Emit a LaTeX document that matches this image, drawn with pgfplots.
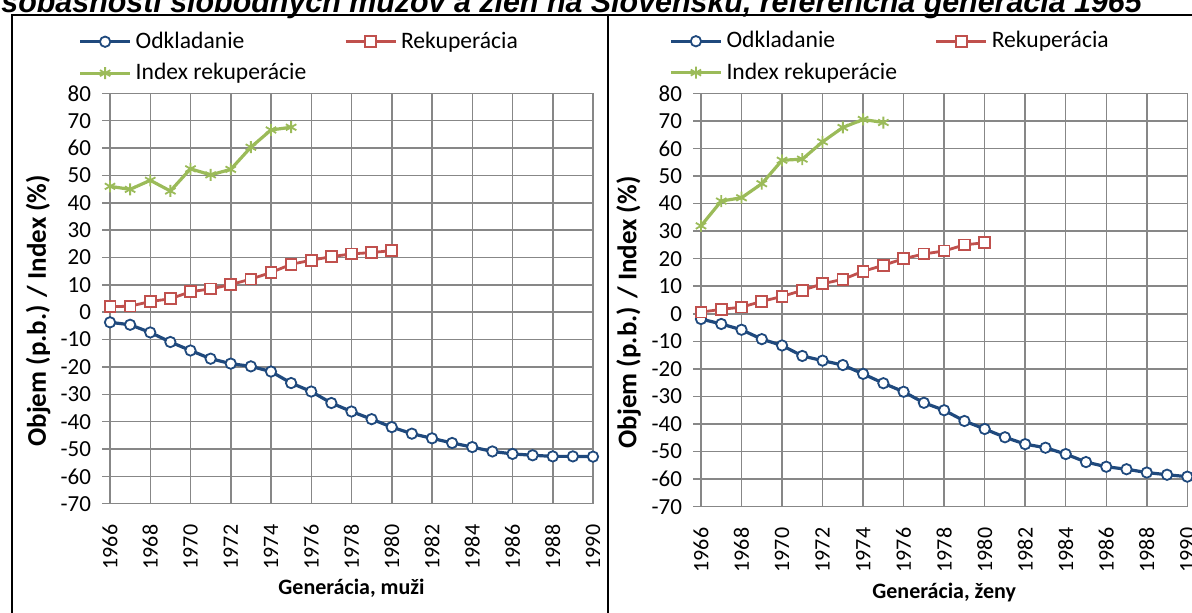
\documentclass[border=0pt]{standalone}
\usepackage{fontspec}
\setmainfont{Carlito}
\newfontfamily\titlefont{Liberation Sans}
\usepackage{pgfplots}
\pgfplotsset{compat=1.18}
\definecolor{cblue}{HTML}{1F497D}
\definecolor{cred}{HTML}{C0504D}
\definecolor{cgreen}{HTML}{9BBB59}
\definecolor{cgrid}{HTML}{878787}
\pgfplotsset{
  panel/.style={
    scale only axis,
    anchor=south west,
    xmin=1966, xmax=1990, ymin=-70, ymax=80,
    xtick={1966,1968,...,1990},
    xticklabels={1966,1968,1970,1972,1974,1976,1978,1980,1982,1984,1986,1988,1990},
    ytick={-70,-60,...,80},
    yticklabels={-70,-60,-50,-40,-30,-20,-10,0,10,20,30,40,50,60,70,80},
    grid=major,
    major grid style={cgrid, line width=0.75pt},
    axis line style={cgrid, line width=0.75pt},
    ytick pos=left, xtick pos=bottom,
    tick align=outside,
    major tick length=4pt,
    ytick style={cgrid, line width=0.75pt},
    xtick style={draw=none},
    tick label style={font=\fontsize{11.5}{13}\selectfont, text=black},
    xticklabel style={rotate=90, anchor=east, xshift=-3pt, font=\fontsize{11}{13}\selectfont},
    yticklabel style={xshift=-2pt},
    ylabel={Objem (p.b.) / Index (\%)},
    every axis y label/.style={at={(axis description cs:-0.149,0.47)}, rotate=90, anchor=center,
      font=\bfseries\fontsize{13.5}{15}\selectfont},
    legend columns=2,
    legend cell align=left,
    legend style={draw=none, fill=none, inner sep=0pt, font=\fontsize{11.8}{13}\selectfont,
      at={(-0.066,1.16)}, anchor=north west, row sep=2pt},
    /tikz/every even column/.append style={column sep=17pt},
    legend image code/.code={\draw[mark repeat=2,mark phase=2,##1] plot coordinates {(0pt,0pt) (12.5pt,0pt) (25pt,0pt)};},
  },
  sblue/.style={cblue, line width=1.6pt, mark=*, mark size=2.6pt, mark options={fill=white, draw=cblue, line width=0.9pt}},
  sred/.style={cred, line width=1.4pt, mark=square*, mark size=2.7pt, mark options={fill=white, draw=cred, line width=0.9pt}},
  sgreen/.style={cgreen, line width=1.6pt, mark=asterisk, mark size=3pt, mark options={draw=cgreen, line width=0.9pt}},
}
\begin{document}
\begin{tikzpicture}
\path[use as bounding box, clip] (0,0) rectangle (596pt,306pt);
\node[anchor=base west, inner sep=0pt, font=\titlefont\bfseries\itshape\fontsize{15.2}{17}\selectfont] at (0.5pt,299.8pt) {sobášnosti slobodných mužov a žien na Slovensku, referenčná generácia 1965};
\draw[line width=1pt] (6pt,-2pt) |- (304pt,298.5pt) -- (304pt,-2pt);
\draw[line width=1pt] (304pt,298.5pt) -- (600pt,298.5pt);

\begin{axis}[panel, at={(55pt,54.15pt)}, width=241.5pt, height=205.2pt,
  xlabel={Generácia, muži},
  every axis x label/.style={at={(axis description cs:0.5,-0.207)}, anchor=center, font=\bfseries\fontsize{11}{13}\selectfont}]
\addplot[sblue] coordinates {(1966,-3.7)(1967,-4.6)(1968,-7.4)(1969,-10.9)(1970,-14.0)(1971,-17.0)(1972,-18.8)(1973,-19.8)(1974,-21.7)(1975,-25.9)(1976,-29.0)(1977,-33.2)(1978,-36.3)(1979,-39.1)(1980,-42.0)(1981,-44.4)(1982,-46.1)(1983,-47.8)(1984,-49.3)(1985,-50.9)(1986,-51.8)(1987,-52.3)(1988,-52.7)(1989,-52.7)(1990,-52.8)};
\addplot[sred] coordinates {(1966,2.0)(1967,2.2)(1968,3.9)(1969,4.9)(1970,7.5)(1971,8.5)(1972,10.1)(1973,12.1)(1974,14.5)(1975,17.5)(1976,19.0)(1977,20.3)(1978,21.3)(1979,21.8)(1980,22.5)};
\addplot[sgreen] coordinates {(1966,46.0)(1967,44.9)(1968,48.2)(1969,44.3)(1970,52.4)(1971,50.2)(1972,52.2)(1973,60.3)(1974,66.6)(1975,67.6)};
\legend{Odkladanie,Rekuperácia,Index rekuperácie}
\end{axis}

\begin{axis}[panel, at={(350.5pt,52.65pt)}, width=243.15pt, height=206.7pt,
  xlabel={Generácia, ženy},
  every axis x label/.style={at={(axis description cs:0.5,-0.207)}, anchor=center, font=\bfseries\fontsize{11}{13}\selectfont}]
\addplot[sblue] coordinates {(1966,-1.9)(1967,-3.7)(1968,-5.8)(1969,-9.2)(1970,-11.5)(1971,-15.3)(1972,-17.0)(1973,-18.6)(1974,-21.8)(1975,-25.2)(1976,-28.3)(1977,-32.3)(1978,-35.0)(1979,-38.9)(1980,-41.8)(1981,-44.8)(1982,-47.3)(1983,-48.6)(1984,-50.9)(1985,-53.8)(1986,-55.5)(1987,-56.4)(1988,-57.6)(1989,-58.4)(1990,-59.1)};
\addplot[sred] coordinates {(1966,0.6)(1967,1.6)(1968,2.4)(1969,4.5)(1970,6.3)(1971,8.5)(1972,10.9)(1973,12.5)(1974,15.4)(1975,17.6)(1976,20.0)(1977,21.7)(1978,22.8)(1979,25.0)(1980,25.8)};
\addplot[sgreen] coordinates {(1966,31.9)(1967,40.9)(1968,42.1)(1969,47.2)(1970,55.7)(1971,56.1)(1972,62.4)(1973,67.6)(1974,70.5)(1975,69.4)};
\legend{Odkladanie,Rekuperácia,Index rekuperácie}
\end{axis}
\end{tikzpicture}
\end{document}
